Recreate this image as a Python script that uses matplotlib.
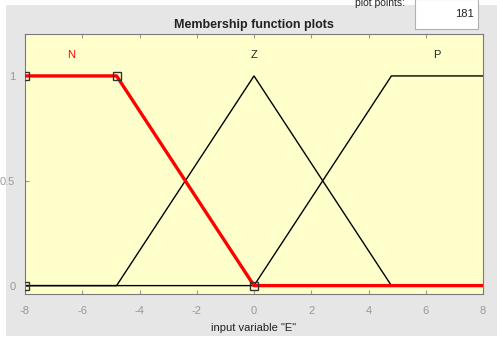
import numpy as np
import matplotlib.pyplot as plt
from matplotlib.patches import Rectangle

plt.rcParams["font.family"] = ["Liberation Sans", "DejaVu Sans"]
plt.rcParams["axes.unicode_minus"] = False

# Input variable "E" and its three membership functions
x_range = [-8, 8]
n_points = 181
mf_names = ["N", "Z", "P"]
n_params = [-8, -8, -4.8, 0]      # trapmf
z_params = [-4.8, 0, 4.8]         # trimf
p_params = [0, 4.8, 8, 8]         # trapmf
x_ticks = [-8, -6, -4, -2, 0, 2, 4, 6, 8]
y_ticks = [0, 0.5, 1]
y_ticklabels = ["0", "0.5", "1"]


def trapmf(x, p):
    a, b, c, d = p
    up = np.where(b > a, (x - a) / max(b - a, 1e-12), 1.0)
    down = np.where(d > c, (d - x) / max(d - c, 1e-12), 1.0)
    return np.clip(np.minimum(up, down), 0, 1)


def trimf(x, p):
    a, b, c = p
    return trapmf(x, [a, b, b, c])


x = np.linspace(*x_range, n_points)
mu_n = trapmf(x, n_params)
mu_z = trimf(x, z_params)
mu_p = trapmf(x, p_params)

fig = plt.figure(figsize=(4.97, 3.38), dpi=100)
fig.patch.set_facecolor("#e6e6e6")

W, H = 497, 338

# window chrome: white strips behind everything
fig.patches.append(Rectangle((0, 1 - 5 / H), 1, 5 / H, transform=fig.transFigure,
                             facecolor="white", edgecolor="none", zorder=-5))
fig.patches.append(Rectangle((0, 0), 6 / W, 1, transform=fig.transFigure,
                             facecolor="white", edgecolor="none", zorder=-5))
fig.patches.append(Rectangle((0, 0), 1, 2 / H, transform=fig.transFigure,
                             facecolor="white", edgecolor="none", zorder=-5))

ax = fig.add_axes([25 / W, (H - 294) / H, 458 / W, 260 / H])
ax.set_facecolor("#ffffcc")

# unselected MFs in black, selected one in red on top
ax.plot(x, mu_z, color="black", linewidth=1.0, zorder=2)
ax.plot(x, mu_p, color="black", linewidth=1.0, zorder=2)
ax.plot(x, mu_n, color="red", linewidth=2.4, zorder=3)

# parameter handles of the selected MF
hx = [n_params[0], n_params[2], n_params[3], n_params[0]]
hy = [1, 1, 0, 0]
ax.plot(hx, hy, linestyle="none", marker="s", markersize=5.5,
        markerfacecolor="none", markeredgecolor="#333333",
        markeredgewidth=1.0, zorder=4)

# MF names above the peaks
name_x = [-6.4, 0, 6.4]
name_colors = ["red", "#222222", "#222222"]
for nm, nx, nc in zip(mf_names, name_x, name_colors):
    ax.text(nx, 1.1, nm, color=nc, fontsize=8, ha="center", va="center")

ax.set_xlim(*x_range)
ax.set_ylim(-0.04, 1.2)
ax.set_xticks(x_ticks)
ax.set_yticks(y_ticks)
ax.set_yticklabels(y_ticklabels)
ax.tick_params(direction="in", length=3, width=0.8, colors="#999999",
               labelsize=8, top=True, right=False, pad=9)
ax.tick_params(axis="y", pad=7)
for s in ax.spines.values():
    s.set_color("#7a7a7a")
    s.set_linewidth(0.8)

ax.set_xlabel('input variable "E"', fontsize=8, color="#222222",
              labelpad=5)
ax.set_title("Membership function plots", fontsize=9, fontweight="bold",
             color="#222222", pad=4)

# plot-points box in the top-right corner
fig.patches.append(Rectangle((415 / W, 1 - 29 / H), 63 / W, 30 / H,
                             transform=fig.transFigure, facecolor="white",
                             edgecolor="#b0b0b0", linewidth=0.8, zorder=1))
fig.text(474 / W, 1 - 14 / H, str(n_points), ha="right", va="center",
         fontsize=8, color="#222222")
fig.text(405 / W, 1 - 3 / H, "plot points:", ha="right", va="center",
         fontsize=7.5, color="#222222")

fig.savefig("out.png", dpi=100, facecolor=fig.get_facecolor())
